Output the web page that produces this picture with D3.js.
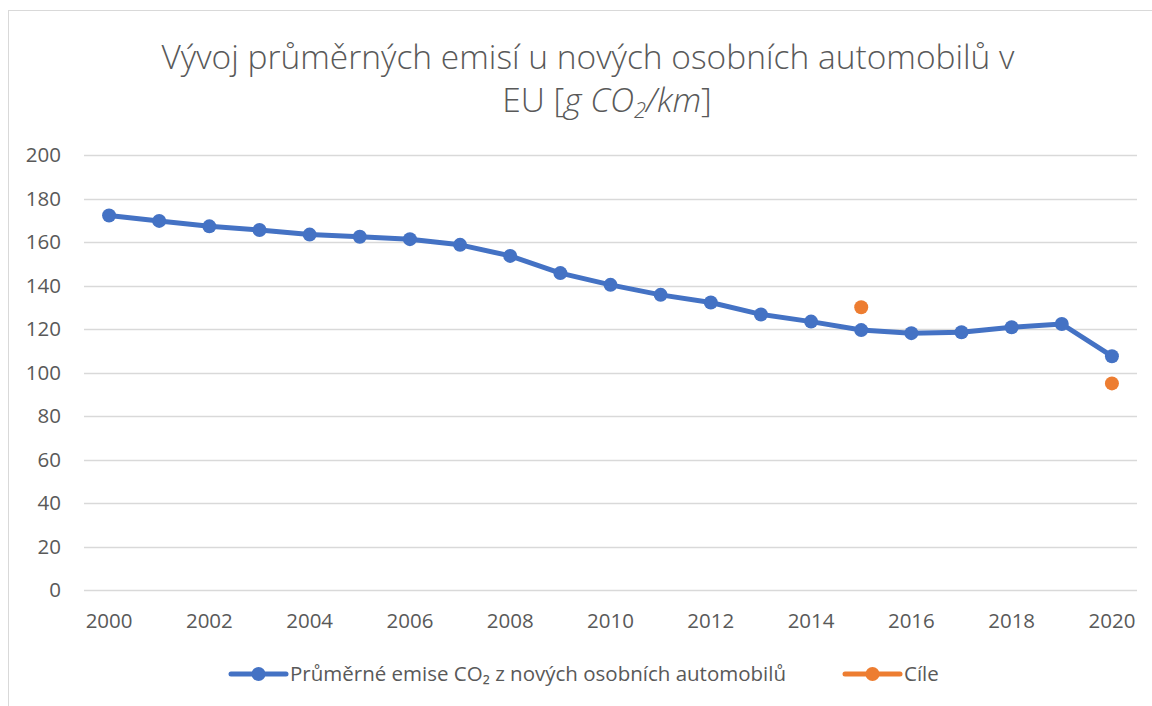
<!DOCTYPE html>
<html>
<head>
<meta charset="utf-8">
<script src="https://cdn.jsdelivr.net/npm/d3@7"></script>
<style>
  body { margin: 0; background: #fff; }
  text { font-family: "Open Sans", "Liberation Sans", sans-serif; fill: #595959; }
</style>
</head>
<body>
<div id="chart"></div>
<script>
// data
const years = d3.range(2000, 2021).map(String);
const emissions = [172.2, 169.7, 167.2, 165.5, 163.4, 162.4, 161.3, 158.7, 153.6, 145.7,
                   140.3, 135.7, 132.2, 126.7, 123.4, 119.5, 118.1, 118.5, 120.8, 122.3, 107.5];
const targetYears = ["2015", "2020"];
const targetValues = [130, 95];
const yTicks = [0, 20, 40, 60, 80, 100, 120, 140, 160, 180, 200];
const xTickLabels = years.filter((d, i) => i % 2 === 0);

const width = 1152, height = 706;
const margin = { top: 155, right: 15, bottom: 116, left: 84 };

const svg = d3.select("#chart").append("svg")
    .attr("width", width)
    .attr("height", height);

// outer chart border
svg.append("rect")
    .attr("x", 8.5).attr("y", 10.5)
    .attr("width", 1200).attr("height", 800)
    .attr("fill", "none")
    .attr("stroke", "#d9d9d9");

const x = d3.scaleBand()
    .domain(years)
    .range([margin.left, width - margin.right]);

const y = d3.scaleLinear()
    .domain([0, 200])
    .range([height - margin.bottom, margin.top]);

const cx = d => x(d) + x.bandwidth() / 2;

// grid
svg.append("g")
    .selectAll("line")
    .data(yTicks)
    .enter().append("line")
    .attr("x1", margin.left)
    .attr("x2", width - margin.right)
    .attr("y1", d => Math.round(y(d)) + 0.5)
    .attr("y2", d => Math.round(y(d)) + 0.5)
    .attr("stroke", "#d9d9d9")
    .attr("stroke-width", 1.5);

// y labels
svg.append("g")
    .selectAll("text")
    .data(yTicks)
    .enter().append("text")
    .attr("x", 61)
    .attr("y", d => y(d))
    .attr("dy", "0.35em")
    .attr("text-anchor", "end")
    .style("font-size", "20.5px")
    .text(d => d);

// x labels
svg.append("g")
    .selectAll("text")
    .data(xTickLabels)
    .enter().append("text")
    .attr("x", d => cx(d))
    .attr("y", 621)
    .attr("dy", "0.35em")
    .attr("text-anchor", "middle")
    .style("font-size", "20.5px")
    .text(d => d);

// emissions line
const line = d3.line()
    .x((d, i) => cx(years[i]))
    .y(d => y(d));

svg.append("path")
    .datum(emissions)
    .attr("d", line)
    .attr("fill", "none")
    .attr("stroke", "#4472C4")
    .attr("stroke-width", 5)
    .attr("stroke-linejoin", "round");

svg.append("g")
    .selectAll("circle")
    .data(emissions)
    .enter().append("circle")
    .attr("cx", (d, i) => cx(years[i]))
    .attr("cy", d => y(d))
    .attr("r", 7)
    .attr("fill", "#4472C4");

// targets
svg.append("g")
    .selectAll("circle")
    .data(targetValues)
    .enter().append("circle")
    .attr("cx", (d, i) => cx(targetYears[i]))
    .attr("cy", d => y(d))
    .attr("r", 7)
    .attr("fill", "#ED7D31");

// title
svg.append("text")
    .attr("x", 588).attr("y", 69)
    .attr("text-anchor", "middle")
    .style("font-size", "33.5px")
    .style("font-weight", 300)
    .text("Vývoj průměrných emisí u nových osobních automobilů v");
const t2 = svg.append("text")
    .attr("x", 607).attr("y", 112)
    .attr("text-anchor", "middle")
    .style("font-size", "33.5px")
    .style("font-weight", 300);
t2.append("tspan").text("EU [");
t2.append("tspan").style("font-style", "italic").text("g CO");
t2.append("tspan").style("font-style", "italic").style("font-size", "22px").attr("dy", 6).text("2");
t2.append("tspan").style("font-style", "italic").attr("dy", -6).text("/km");
t2.append("tspan").text("]");

// legend
const legend = [
    { label: "Průměrné emise CO₂ z nových osobních automobilů", color: "#4472C4", x: 231 },
    { label: "Cíle", color: "#ED7D31", x: 845 }
];
const lg = svg.append("g").selectAll("g")
    .data(legend)
    .enter().append("g")
    .attr("transform", d => `translate(${d.x},674)`);
lg.append("line")
    .attr("x1", 0).attr("x2", 55)
    .attr("stroke", d => d.color)
    .attr("stroke-width", 5)
    .attr("stroke-linecap", "round");
lg.append("circle")
    .attr("cx", 27.5).attr("r", 7)
    .attr("fill", d => d.color);
lg.append("text")
    .attr("x", 59)
    .attr("dy", "0.35em")
    .style("font-size", "20.5px")
    .text(d => d.label);
</script>
</body>
</html>
